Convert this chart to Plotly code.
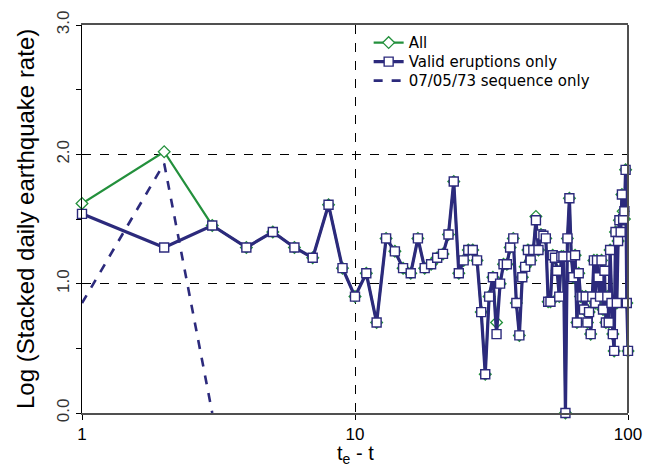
import plotly.graph_objects as go

# Days before eruption (t_e - t)
days = list(range(1, 101))

# Log of stacked daily earthquake rate, valid eruptions only
valid = [
    1.54, 1.28, 1.45, 1.28, 1.40, 1.28, 1.20, 1.61, 1.12, 0.90,
    1.08, 0.70, 1.35, 1.25, 1.12, 1.08, 1.35, 1.12, 1.15, 1.20,
    1.23, 1.38, 1.79, 1.08, 1.18, 1.26, 1.26, 1.18, 0.78, 0.30,
    0.90, 1.05, 0.61, 1.00, 1.15, 1.15, 1.28, 1.35, 0.85, 0.60,
    1.05, 1.13, 1.26, 1.18, 1.26, 1.49, 1.26, 1.38, 1.37, 1.35,
    0.86, 0.86, 1.22, 1.20, 1.10, 0.90, 1.21, 1.21, 0.00, 1.35,
    1.66, 1.21, 1.05, 1.22, 0.70, 1.08, 0.90, 0.90, 0.80, 0.90,
    0.70, 0.78, 0.61, 0.90, 1.18, 0.85, 1.18, 1.05, 0.90, 1.18,
    0.80, 1.10, 0.70, 0.90, 0.70, 1.26, 0.85, 0.61, 0.48, 1.40,
    0.85, 1.33, 1.49, 1.40, 1.69, 1.50, 1.56, 1.88, 0.85, 0.48,
]

# All eruptions: identical to the valid set except on a few days
all_eruptions = list(valid)
all_eruptions[0] = 1.62
all_eruptions[1] = 2.02
all_eruptions[32] = 0.70
all_eruptions[45] = 1.52
all_eruptions[95] = 1.56
all_eruptions[96] = 1.50

# 07/05/73 sequence only
seq_days = [1, 2, 3]
seq_vals = [0.85, 1.93, 0.00]

GREEN = "#23903c"
NAVY = "#2c2a7c"
TEXT_FONT = "Liberation Sans, Arial, sans-serif"

fig = go.Figure()

fig.add_trace(go.Scatter(
    x=days, y=all_eruptions, name="All", mode="lines+markers",
    line=dict(color=GREEN, width=2.2),
    marker=dict(symbol="diamond", size=9, color="white",
                line=dict(color=GREEN, width=1.3)),
    cliponaxis=False, legend="legend",
))
fig.add_trace(go.Scatter(
    x=days, y=valid, name="Valid eruptions only", mode="lines+markers",
    line=dict(color=NAVY, width=3.2),
    marker=dict(symbol="square", size=9, color="white",
                line=dict(color=NAVY, width=1.4)),
    cliponaxis=False, legend="legend2",
))
fig.add_trace(go.Scatter(
    x=seq_days, y=seq_vals, name="07/05/73 sequence only", mode="lines",
    line=dict(color=NAVY, width=2.6, dash="dash"),
    legend="legend3",
))

# right-hand frame edge
fig.add_shape(type="line", xref="paper", yref="paper", x0=1, x1=1, y0=0, y1=1,
              line=dict(color="#505050", width=2))

# axis titles
fig.add_annotation(text="t<sub>e</sub> - t", xref="paper", yref="paper",
                   x=0.5, y=0, xanchor="center", yanchor="top", yshift=-27,
                   showarrow=False, font=dict(size=20, family=TEXT_FONT))
fig.add_annotation(text="Log (Stacked daily earthquake rate)",
                   xref="paper", yref="paper", x=0, y=0.5,
                   xanchor="center", yanchor="middle", xshift=-57,
                   textangle=-90, showarrow=False,
                   font=dict(size=24, family=TEXT_FONT))

legend_style = dict(x=0.525, xanchor="left", yanchor="middle",
                    bgcolor="rgba(0,0,0,0)",
                    font=dict(size=15, family="DejaVu Sans, sans-serif"))

fig.update_layout(
    width=661, height=467,
    margin=dict(l=82, r=33, t=25, b=54),
    paper_bgcolor="white", plot_bgcolor="white",
    font=dict(family=TEXT_FONT, color="black"),
    showlegend=True,
    legend=dict(y=0.954, **legend_style),
    legend2=dict(y=0.905, **legend_style),
    legend3=dict(y=0.856, **legend_style),
    xaxis=dict(
        type="log", range=[0, 2], automargin=False,
        tickvals=[1, 10, 100], ticktext=["1", "10", "100"],
        tickfont=dict(size=17),
        ticks="outside", ticklen=5, tickcolor="black",
        showline=True, linecolor="#505050", linewidth=2, mirror=True,
        showgrid=True, gridcolor="black", gridwidth=1, griddash="dash",
        zeroline=False,
    ),
    yaxis=dict(
        range=[0, 3], automargin=False,
        tickvals=[0, 1, 2, 3], ticktext=["0.0", "1.0", "2.0", "3.0"],
        tickangle=-90, tickfont=dict(size=17, color="#333"),
        ticks="outside", ticklen=5, tickcolor="black",
        minor=dict(dtick=0.5, ticks="outside", ticklen=5, tickcolor="black",
                   showgrid=False),
        showline=True, linecolor="black", linewidth=1.2,
        showgrid=True, gridcolor="black", gridwidth=1, griddash="dash",
        zeroline=False,
    ),
)

fig.write_html("out.html")
